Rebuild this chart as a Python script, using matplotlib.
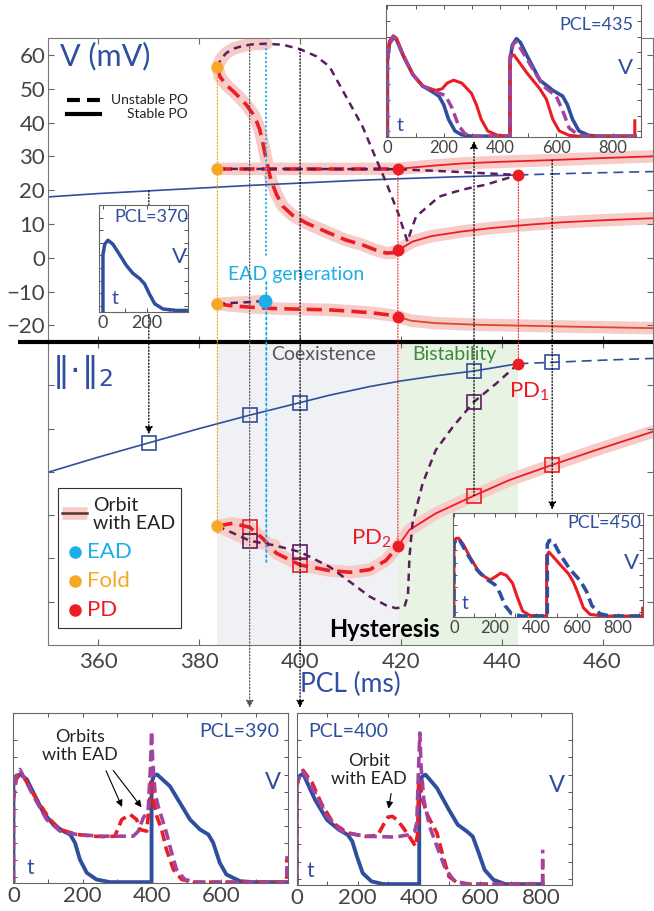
import matplotlib
matplotlib.use("Agg")
import matplotlib.pyplot as plt
from matplotlib.patches import ConnectionPatch, Rectangle
from matplotlib.transforms import blended_transform_factory as blend

plt.rcParams['font.family'] = ['Lato', 'DejaVu Sans']
plt.rcParams['mathtext.fontset'] = 'custom'
plt.rcParams['mathtext.rm'] = 'Lato'
plt.rcParams['mathtext.it'] = 'Lato:italic'

BLUE = '#2F4F9E'
RED = '#EC1C24'
ORRED = '#DD4A2A'
PINK = '#F7CBC7'
PURP = '#5C1D5E'
MAG = '#A2449F'
ORANGE = '#F8A724'
CYAN = '#1DAEE8'
TXT = '#444444'

#------------------------------- bifurcation points ---------------------------
pcl_fold = 383.6
pcl_ead = 393.3
pcl_pd2 = 419.4
pcl_pd1 = 443.3

#------------------------------- top panel: V (mV) ----------------------------
pcl_blue = [350, 360, 370, 380, 390, 400, 410, 420, 430, 443.3]
v_blue = [18.0, 19.0, 19.8, 20.6, 21.4, 22.1, 22.8, 23.4, 23.9, 24.5]
pcl_blue_u = [443.3, 455, 470]
v_blue_u = [24.5, 25.0, 25.5]

pcl_loop = [383.6, 384.3, 385.4, 386.7, 388.7, 391.0, 393.3, 396.6, 400, 403.2,
            405.8, 409, 412.4, 415, 417.1, 419.5, 421.3, 422.0, 423, 427.6,
            430.9, 433.5, 436.8, 440.1, 443.3]
v_loop = [56.3, 58.8, 60.6, 61.8, 62.7, 63.2, 63.3, 63.0, 61.7, 59.6,
          56.6, 48.0, 38.8, 29.5, 22.2, 13.0, 4.8, 8.0, 12.2, 18.1,
          19.6, 20.6, 21.6, 23.1, 24.5]

pcl_top_r = [383.6, 384.1, 385.3, 386.7, 388, 389.3, 391.0, 392.0, 392.6, 393.3,
             394.2, 395.3, 396.6, 398.5, 401.2, 405.8, 409, 412.4, 415, 417.1,
             418.5, 419.4]
v_top_r = [56.3, 53.6, 51.2, 49.3, 47.4, 45.3, 41.8, 37.9, 34.0, 29.0,
           23.1, 18.8, 15.2, 12.6, 10.3, 7.3, 5.3, 3.8, 2.3, 1.4,
           1.5, 2.2]
pcl_top_s = [419.4, 422.3, 426, 432.2, 438, 445.4, 452, 460, 470]
v_top_s = [2.2, 4.8, 6.4, 7.8, 8.8, 9.8, 10.5, 11.1, 11.7]

pcl_mid_r = [383.6, 419.4]
v_mid_r = [26.3, 26.3]
pcl_mid_s = [419.4, 426, 432.2, 440, 450, 460, 470]
v_mid_s = [26.3, 27.2, 27.9, 28.4, 28.9, 29.5, 30.0]
pcl_mid_p = [383.6, 419.4, 430, 443.3]
v_mid_p = [26.3, 26.2, 25.5, 24.5]

pcl_bot_r = [383.6, 386, 390, 395, 400, 405.8, 410, 414.4, 417.7, 419.4]
v_bot_r = [-13.6, -14.1, -14.6, -15.0, -15.2, -15.4, -15.8, -16.3, -16.9, -17.4]
pcl_bot_s = [419.4, 422, 426.7, 435, 445, 455, 470]
v_bot_s = [-17.4, -18.6, -19.3, -19.8, -20.1, -20.4, -20.8]
pcl_bot_p = [383.6, 387, 390, 393.1]
v_bot_p = [-13.6, -13.3, -13.1, -12.7]

#------------------------------- bottom panel: norm ---------------------------
pcl_nb = [350, 360, 370, 380, 390, 400, 405.8, 413.8, 420, 427, 434.5, 443.3]
n_nb = [3.99, 4.34, 4.67, 5.0, 5.31, 5.6, 5.77, 5.97, 6.1, 6.22, 6.33, 6.5]
pcl_nbu = [443.3, 450, 460, 470]
n_nbu = [6.5, 6.53, 6.58, 6.62]

pcl_nr = [383.6, 386.6, 390, 392.6, 395.3, 400, 405.8, 410, 413.8, 417, 419.4]
n_nr = [2.75, 2.81, 2.72, 2.46, 2.12, 1.85, 1.72, 1.68, 1.74, 1.95, 2.28]
pcl_ns = [419.4, 421.7, 426.9, 434.5, 441.5, 450, 458.6, 470]
n_ns = [2.28, 2.66, 3.04, 3.45, 3.81, 4.16, 4.50, 4.93]
pcl_np = [383.6, 390, 395, 400, 405.8, 410, 413.8, 417, 419, 420.7, 421.4, 421.7,
          422.3, 424.3, 426.9, 430.3, 434.5, 438.9, 443.3]
n_np = [2.75, 2.41, 2.3, 2.15, 1.81, 1.45, 1.12, 0.92, 0.85, 0.88, 1.15, 2.04,
        2.81, 3.73, 4.5, 5.04, 5.62, 6.04, 6.5]

sq_pcl_blue = [370, 390, 400, 434.5, 450]
sq_blue = [4.67, 5.31, 5.6, 6.33, 6.53]
sq_pcl_red = [390, 400, 434.5, 450]
sq_red = [2.72, 1.85, 3.45, 4.16]
sq_pcl_purp = [390, 400, 434.5]
sq_purp = [2.41, 2.15, 5.62]

#------------------------------- action potentials ----------------------------
t370 = [0, 0, 8, 23, 45, 76, 106, 136, 167, 189, 212, 235, 273, 333, 386]
v370 = [-89.6, 0.9, 17.7, 24, 17.7, 0.9, -15.9, -28.6, -37, -45.4, -62.2, -77, -85.3, -87.5, -87.5]

t435_b = [0, 0, 7, 21, 32, 56, 90, 125, 160, 183, 200, 217, 240, 264, 298, 435,
          435, 443, 458, 472, 495, 541, 587, 622, 639, 657, 680, 714, 749, 879]
v435_b = [-86, 8.8, 30.8, 38.9, 36.3, 16.1, -7.8, -22.5, -29.8, -35.3, -46.3, -64.7, -79.4, -84.2, -86, -86,
          8.8, 29, 37.4, 32.6, 16.1, -15.1, -28, -35.3, -46.3, -64.7, -79.4, -84.9, -86, -86]
t435_r = [0, 0, 7, 21, 32, 56, 90, 125, 171, 194, 212, 235, 264, 298, 316, 333, 356, 391, 435,
          435, 449, 495, 541, 564, 587, 610, 645, 680, 878, 878]
v435_r = [-86, 8.8, 34.5, 41.1, 38.1, 16.8, -7.8, -22.5, -28, -26.1, -18.8, -15.1, -18.8, -31.6, -46.3, -64.7, -79.4, -84.9, -86,
          16.1, 16.8, -5.9, -26.1, -39, -64.7, -79.4, -84.9, -86, -86, -66.5]
t435_p = [0, 0, 7, 21, 32, 56, 90, 125, 171, 206, 229, 252, 275, 310, 435,
          435, 446, 458, 506, 553, 599, 622, 645, 680, 714, 879]
v435_p = [-86, 8.8, 31.5, 39.6, 37.4, 16.1, -7.8, -22.5, -29.8, -34.6, -50, -72, -83.1, -86, -86,
          8.8, 30.8, 33.7, 5.1, -22.5, -35.3, -53.7, -75.7, -84.9, -86, -86]

t450_r = [0, 0, 10, 23, 46, 78, 127, 176, 205, 228, 257, 286, 309, 335, 371, 452,
          452, 463, 485, 517, 558, 582, 607, 631, 663, 728, 920, 920]
v450_r = [-86, 28.9, 38.7, 39.1, 28.9, 8.8, -17.9, -28.1, -22.3, -17, -21, -33.5, -55.7, -78, -85.1, -86,
          11, 16.8, 8.8, -3.2, -17.9, -31.2, -51.3, -72.6, -83.3, -86, -86, -73.5]
t450_b = [0, 0, 10, 26, 62, 111, 159, 200, 224, 249, 281, 330, 455,
          455, 465, 481, 517, 566, 615, 647, 672, 712, 761, 920]
v450_b = [-86, 28.9, 37.8, 36.9, 15.5, -11.2, -26.8, -35.7, -49, -69.1, -82.4, -86, -86,
          28.9, 35.5, 35.5, 13.3, -11.2, -29, -46.8, -69.1, -82.4, -86, -86]

t390_b = [0, 0, 10, 21, 39, 58, 87, 115, 144, 164, 178, 192, 212, 240, 279, 399,
          399, 406, 415, 452, 481, 510, 539, 563, 577, 596, 615, 654, 692, 793]
v390_b = [-86, 30.3, 38.8, 40, 34.2, 18.5, -4.9, -18.5, -26.3, -30.2, -40, -59.5, -75.1, -82.9, -86, -86,
          30.3, 38.8, 40, 26.3, 6.8, -12.7, -24.4, -30.2, -40, -63.4, -77, -84.8, -86, -86]
t390_r = [0, 0, 8, 16, 34, 67, 106, 135, 183, 231, 269, 293, 313, 337, 356, 365, 385, 394, 397, 402,
          414, 428, 442, 462, 486, 519, 790, 790]
v390_r = [-86, 10.7, 34.2, 38.8, 34.2, 10.7, -12.7, -24.4, -30.2, -32.2, -32.9, -32.2, -12.7, -6.8, -12.7, -24.4, -26.3, 10.7, 34.2, 14.6,
          -8.8, -24.4, -47.8, -71.2, -82.9, -86, -86, -59.5]
t390_p = [0, 0, 8, 19, 58, 96, 135, 183, 250, 346, 361, 375, 389, 396, 399, 402, 409, 418, 433, 442,
          457, 471, 495, 529, 790, 790]
v390_p = [-86, 10.7, 38.1, 45.9, 14.6, -12.7, -26.3, -30.2, -32.2, -32.2, -26.3, -10.7, -2.9, 49.8, 90.7, 57.6, 18.5, 2.9, -16.6, -28.3,
          -51.7, -71.2, -82.9, -86, -86, -55.6]

t400_b = [0, 0, 10, 21, 60, 99, 138, 167, 182, 197, 216, 245, 284, 401,
          401, 411, 422, 459, 498, 527, 557, 576, 596, 615, 644, 683, 805]
v400_b = [-86, 30.4, 38.8, 41.1, 11.2, -11.9, -23.4, -29.2, -36.8, -54.1, -73.3, -82.9, -86, -86,
          30.4, 38.1, 40, 24.6, -0.3, -17.6, -25.3, -31.1, -50.3, -69.5, -81, -86, -86]
t400_r = [0, 0, 10, 21, 51, 80, 119, 167, 226, 265, 284, 299, 313, 328, 347, 372, 389, 396, 399, 403,
          411, 430, 459, 479, 498, 527, 566, 805, 805]
v400_r = [-86, 26.5, 41.1, 45, 30.4, 7.3, -15.7, -27.2, -31.1, -29.9, -17.6, -8.8, -8, -11.9, -20.3, -33, -42.6, -27.2, 30.4, 34.2,
          11.2, -8, -27.2, -54.1, -77.2, -84.8, -86, -86, -58]
t400_p = [0, 0, 10, 21, 60, 99, 148, 197, 236, 323, 367, 386, 393, 399, 403, 407, 416, 435, 459, 488,
          518, 566, 805, 805]
v400_p = [-86, 26.5, 40, 43.8, 18.9, -8, -25.3, -29.2, -31.1, -31.8, -29.2, -25.3, -15.7, 49.6, 88, 49.6, 11.2, -19.5, -42.6, -69.5,
          -82.9, -86, -86, -46.4]

#------------------------------- figure ----------------------------------------
W, H = 654, 911
fig = plt.figure(figsize=(W / 100, H / 100), dpi=100)
ax_v = fig.add_axes([48 / W, (H - 342) / H, 605 / W, 304 / H])
ax_n = fig.add_axes([48 / W, (H - 645) / H, 605 / W, 303 / H])

for ax in (ax_v, ax_n):
    ax.set_xlim(350, 470)
    ax.set_xticks([360, 380, 400, 420, 440, 460])
    ax.tick_params(direction='in', top=True, right=True, length=4, width=0.8,
                   color='#666666', labelsize=16, labelcolor=TXT)
    for s in ax.spines.values():
        s.set_color('#777777')
        s.set_linewidth(0.8)
ax_v.spines['bottom'].set_visible(False)
ax_n.spines['top'].set_visible(False)

ax_v.set_ylim(-24.9, 65)
ax_v.set_yticks(range(-20, 61, 10))
ax_v.tick_params(axis='y', pad=2)
ax_v.set_xticklabels([])
ax_n.set_ylim(0, 7)
ax_n.set_yticks(range(1, 7))
ax_n.set_yticklabels([])
ax_n.tick_params(axis='x', pad=5)
ax_n.set_xlabel('PCL (ms)', fontsize=19, color=BLUE, labelpad=0)

band = dict(color=PINK, lw=9, solid_capstyle='round', zorder=1)
rdash = dict(color=RED, lw=2.6, dashes=(4.2, 2.0), zorder=3)
pdash = dict(color=PURP, lw=1.8, dashes=(3, 2.2), zorder=4)
dot = dict(ls='none', marker='o', ms=7.5, zorder=6)

# top panel curves
ax_v.plot(pcl_blue, v_blue, color=BLUE, lw=1.2, zorder=2)
ax_v.plot(pcl_blue_u, v_blue_u, color=BLUE, lw=1.2, dashes=(6, 3.5), zorder=2)
ax_v.plot(pcl_loop[:7], v_loop[:7], **band)
ax_v.plot(pcl_top_r, v_top_r, **band)
ax_v.plot(pcl_top_s, v_top_s, **band)
ax_v.plot(pcl_mid_r + pcl_mid_s, v_mid_r + v_mid_s, **band)
ax_v.plot(pcl_bot_r + pcl_bot_s, v_bot_r + v_bot_s, **band)
ax_v.plot(pcl_bot_p, v_bot_p, **band)
ax_v.plot(pcl_loop, v_loop, **pdash)
ax_v.plot(pcl_mid_p, v_mid_p, **pdash)
ax_v.plot(pcl_bot_p, v_bot_p, **pdash)
ax_v.plot(pcl_top_r, v_top_r, **rdash)
ax_v.plot(pcl_mid_r, v_mid_r, **rdash)
ax_v.plot(pcl_bot_r, v_bot_r, **rdash)
ax_v.plot(pcl_top_s, v_top_s, color=RED, lw=1.3, zorder=3)
ax_v.plot(pcl_mid_s, v_mid_s, color=RED, lw=1.3, zorder=3)
ax_v.plot(pcl_bot_s, v_bot_s, color=ORRED, lw=1.3, zorder=3)
ax_v.plot([pcl_fold] * 3, [v_top_r[0], v_mid_r[0], v_bot_r[0]], color=ORANGE, **dot)
ax_v.plot([pcl_pd2] * 3 + [pcl_pd1], [v_mid_s[0], v_top_s[0], v_bot_s[0], v_blue_u[0]],
          color=RED, **dot)
ax_v.plot([pcl_bot_p[-1]], [v_bot_p[-1]], ls='none', marker='o', ms=9, color=CYAN, zorder=6)
ax_v.plot([pcl_ead, pcl_ead], [v_loop[6], 0.5], color=CYAN, lw=1.4, ls=(0, (1, 1.2)), zorder=5)
ax_v.text(399.3, -5.0, 'EAD generation', color=CYAN, fontsize=14, ha='center', va='center')
ax_v.text(0.02, 0.94, 'V (mV)', color=BLUE, fontsize=22, ha='left', va='center',
          transform=ax_v.transAxes)

# stability legend
ax_v.plot([0.031, 0.086], [0.796, 0.796], color='k', lw=3, dashes=(3.1, 1.7),
          transform=ax_v.transAxes)
ax_v.plot([0.031, 0.086], [0.75, 0.75], color='k', lw=3, transform=ax_v.transAxes)
ax_v.text(0.231, 0.796, 'Unstable PO', fontsize=10, color='#222222', ha='right', va='center',
          transform=ax_v.transAxes)
ax_v.text(0.231, 0.75, 'Stable PO', fontsize=10, color='#222222', ha='right', va='center',
          transform=ax_v.transAxes)

# bottom panel
ax_n.axvspan(pcl_fold, pcl_pd2, color='#F0F1F4', lw=0, zorder=0)
ax_n.axvspan(pcl_pd2, pcl_pd1, color='#E8F3E3', lw=0, zorder=0)
ax_n.text(404.7, 6.7, 'Coexistence', color='#555555', fontsize=14, ha='center', va='center')
ax_n.text(430.6, 6.7, 'Bistability', color='#3C8A3C', fontsize=14, ha='center', va='center')
ax_n.text(416.7, 0.35, 'Hysteresis', color='k', fontsize=17, fontweight='bold',
          ha='center', va='center', zorder=7)

ax_n.plot(pcl_nb, n_nb, color=BLUE, lw=1.2, zorder=2)
ax_n.plot(pcl_nbu, n_nbu, color=BLUE, lw=1.2, dashes=(6, 3.5), zorder=2)
ax_n.plot(pcl_nr + pcl_ns, n_nr + n_ns, **band)
ax_n.plot(pcl_np[:3], n_np[:3], **band)
ax_n.plot(pcl_np, n_np, **pdash)
ax_n.plot(pcl_nr, n_nr, **rdash)
ax_n.plot(pcl_ns, n_ns, color=RED, lw=1.3, zorder=3)
sq = dict(ls='none', marker='s', ms=10, mfc='none', mew=1.2, zorder=7)
ax_n.plot(sq_pcl_blue, sq_blue, mec=BLUE, **sq)
ax_n.plot(sq_pcl_red, sq_red, mec=RED, **sq)
ax_n.plot(sq_pcl_purp, sq_purp, mec=PURP, **sq)
ax_n.plot([pcl_fold], [n_nr[0]], color=ORANGE, **dot)
ax_n.plot([pcl_pd2, pcl_pd1], [n_ns[0], n_nbu[0]], color=RED, **dot)
ax_n.text(418.2, 2.45, r'PD$_2$', color=RED, fontsize=16, ha='right', va='center')
ax_n.text(441.5, 5.85, r'PD$_1$', color=RED, fontsize=16, ha='left', va='center')
ax_n.text(0.006, 0.9, r'$\Vert\!\cdot\!\Vert_{2}$', color=BLUE, fontsize=24,
          ha='left', va='center', transform=ax_n.transAxes, math_fontfamily='dejavusans')
ax_n.plot([-0.05, 1.0], [1, 1], transform=ax_n.transAxes, clip_on=False, color='k',
          lw=3, solid_capstyle='butt', zorder=10)

# legend box
ax_n.add_patch(Rectangle((0.017, 0.055), 0.203, 0.464, transform=ax_n.transAxes,
                         fc='white', ec='#333333', lw=0.8, zorder=8))
ax_n.plot([0.0226, 0.065], [0.4366, 0.4366], transform=ax_n.transAxes, color=PINK, lw=9,
          solid_capstyle='butt', zorder=9)
ax_n.plot([0.0226, 0.065], [0.4366, 0.4366], transform=ax_n.transAxes, color='#553333', lw=1.8,
          zorder=9)
ax_n.text(0.0744, 0.43, 'Orbit\nwith EAD', transform=ax_n.transAxes, fontsize=14,
          color='#222222', ha='left', va='center', linespacing=1.05, zorder=9)
for yy, lab, cc in [(0.308, 'EAD', CYAN), (0.212, 'Fold', ORANGE), (0.1155, 'PD', RED)]:
    ax_n.plot([0.0446], [yy], transform=ax_n.transAxes, marker='o', ms=8, color=cc, zorder=9)
    ax_n.text(0.065, yy, lab, transform=ax_n.transAxes, fontsize=16, color=cc,
              ha='left', va='center', zorder=9)


#------------------------------- insets -----------------------------------------
def make_inset(rect, xlim, ylim, majors, fs):
    ax = fig.add_axes(rect, zorder=5)
    ax.set_xlim(xlim)
    ax.set_ylim(ylim)
    ax.set_xticks(majors)
    ax.set_xticks([m + 100 for m in majors], minor=True)
    ax.set_yticks(range(-80, 100, 20))
    ax.set_yticklabels([])
    ax.tick_params(which='both', direction='in', top=True, right=True, length=3,
                   width=0.7, color='#555555', labelsize=fs, labelcolor=TXT, pad=2)
    for s in ax.spines.values():
        s.set_color('#666666')
        s.set_linewidth(0.8)
    return ax


def inset_labels(ax, pcl, xy_pcl, ha, xy_v, xy_t, fs):
    ax.text(xy_pcl[0], xy_pcl[1], pcl, color=BLUE, fontsize=fs, ha=ha, va='center',
            transform=ax.transAxes)
    ax.text(xy_v[0], xy_v[1], 'V', color=BLUE, fontsize=fs + 3, ha='center', va='center',
            transform=ax.transAxes)
    ax.text(xy_t[0], xy_t[1], 't', color=BLUE, fontsize=fs + 1, ha='center', va='center',
            transform=ax.transAxes)


ax370 = make_inset([99 / W, (H - 312) / H, 89 / W, 107 / H], (-18, 386), (-90, 45), [0, 200], 13)
ax370.plot(t370, v370, color=BLUE, lw=2.5)
inset_labels(ax370, 'PCL=370', (1.0, 0.888), 'right', (0.91, 0.514), (0.18, 0.13), 13)

ax435 = make_inset([386 / W, (H - 137) / H, 255 / W, 132 / H], (-5, 879), (-87, 58),
                   [0, 200, 400, 600, 800], 12)
ax435.plot(t435_b, v435_b, color=BLUE, lw=2.6)
ax435.plot(t435_r, v435_r, color=RED, lw=2.2)
ax435.plot(t435_p, v435_p, color=MAG, lw=2.5, dashes=(3, 1.5))
inset_labels(ax435, 'PCL=435', (0.97, 0.85), 'right', (0.94, 0.52), (0.055, 0.09), 13)

ax450 = make_inset([452.7 / W, (H - 617.3) / H, 190.6 / W, 104.6 / H], (-6, 923), (-88, 52),
                   [0, 200, 400, 600, 800], 12)
ax450.plot(t450_r, v450_r, color=RED, lw=2.2)
ax450.plot(t450_b, v450_b, color=BLUE, lw=2.6, dashes=(3, 1.5))
inset_labels(ax450, 'PCL=450', (0.99, 0.90), 'right', (0.94, 0.52), (0.065, 0.13), 13)

ax390 = make_inset([12.7 / W, (H - 883) / H, 275.3 / W, 170 / H], (-2, 793), (-87, 112),
                   [0, 200, 400, 600], 16)
ax390.plot(t390_b, v390_b, color=BLUE, lw=2.8)
ax390.plot(t390_r, v390_r, color=RED, lw=2.6, dashes=(3, 1.5))
ax390.plot(t390_p, v390_p, color=MAG, lw=2.6, dashes=(3, 1.5))
inset_labels(ax390, 'PCL=390', (0.97, 0.89), 'right', (0.945, 0.59), (0.063, 0.09), 14)
ax390.text(0.244, 0.806, 'Orbits\nwith EAD', transform=ax390.transAxes, fontsize=13,
           ha='center', va='center', color='#222222', linespacing=1.1)
for tx, ty, px, pv in [(0.335, 0.675, 317, -1), (0.359, 0.675, 375, -1)]:
    ax390.annotate('', xy=(px, pv), xytext=(tx, ty), textcoords='axes fraction',
                   arrowprops=dict(arrowstyle='-|>', color='k', lw=0.8, mutation_scale=10))

ax400 = make_inset([296.7 / W, (H - 885) / H, 275 / W, 172 / H], (0, 805), (-87, 111),
                   [0, 200, 400, 600, 800], 16)
ax400.plot(t400_b, v400_b, color=BLUE, lw=2.8)
ax400.plot(t400_r, v400_r, color=RED, lw=2.6, dashes=(3, 1.5))
ax400.plot(t400_p, v400_p, color=MAG, lw=2.6, dashes=(3, 1.5))
inset_labels(ax400, 'PCL=400', (0.041, 0.89), 'left', (0.945, 0.58), (0.048, 0.08), 14)
ax400.text(0.264, 0.669, 'Orbit\nwith EAD', transform=ax400.transAxes, fontsize=13,
           ha='center', va='center', color='#222222', linespacing=1.1)
ax400.annotate('', xy=(299, -2.3), xytext=(0.345, 0.548), textcoords='axes fraction',
               arrowprops=dict(arrowstyle='-|>', color='k', lw=0.8, mutation_scale=10))


#------------------------------- guide lines ------------------------------------
def guide(xa, ca, xb, cb, color='k', lw=0.9, arrow=False):
    cp = ConnectionPatch(xyA=xa, coordsA=ca, xyB=xb, coordsB=cb,
                         arrowstyle='-|>' if arrow else '-', mutation_scale=11,
                         color=color, fc=color, lw=lw, ls=(0, (1, 1.6)), zorder=3)
    fig.add_artist(cp)


dv, dn = ax_v.transData, ax_n.transData
guide((pcl_fold, v_top_r[0]), dv, (pcl_fold, 2.54), dn, color=ORANGE)
guide((pcl_pd2, v_mid_s[0]), dv, (pcl_pd2, n_ns[0]), dn, color=RED, lw=0.8)
guide((pcl_pd1, v_blue_u[0]), dv, (pcl_pd1, n_nbu[0]), dn, color=RED, lw=0.8)
guide((pcl_ead, -7.2), dv, (pcl_ead, 1.92), dn, color=CYAN, lw=1.4)
guide((370, 19.8), dv, (370, 4.87), dn, arrow=True)
guide((390, 63.3), dv, (390, 1.03), blend(dv, ax390.transAxes), color='#555555', arrow=True)
guide((400, 61.7), dv, (400, 1.03), blend(dv, ax400.transAxes), arrow=True)
guide((434.5, sq_red[2]), dn, (434.5, -0.03), blend(dv, ax435.transAxes), arrow=True)
guide((450, 28.9), dv, (450, 1.03), blend(dv, ax450.transAxes), arrow=True)

fig.savefig('out.png', dpi=100)
